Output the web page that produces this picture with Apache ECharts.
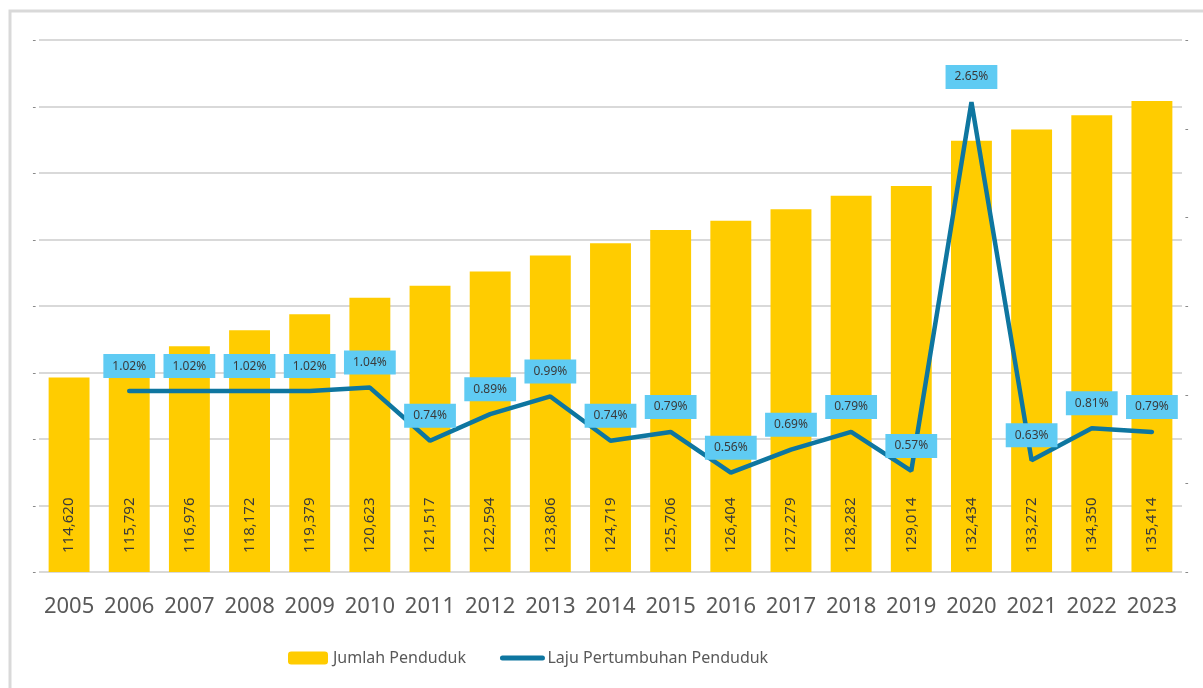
<!DOCTYPE html>
<html>
<head>
<meta charset="utf-8">
<script src="https://cdn.jsdelivr.net/npm/echarts@6/dist/echarts.min.js"></script>
<style>
  html, body { margin: 0; padding: 0; background: #fff; }
  #chart { width: 1203px; height: 688px; }
</style>
</head>
<body>
<div id="chart"></div>
<script>
// data
const years = ['2005', '2006', '2007', '2008', '2009', '2010', '2011', '2012', '2013', '2014',
  '2015', '2016', '2017', '2018', '2019', '2020', '2021', '2022', '2023'];
const jumlahPenduduk = [114620, 115792, 116976, 118172, 119379, 120623, 121517, 122594, 123806, 124719,
  125706, 126404, 127279, 128282, 129014, 132434, 133272, 134350, 135414];
const lajuPertumbuhan = [null, 1.02, 1.02, 1.02, 1.02, 1.04, 0.74, 0.89, 0.99, 0.74,
  0.79, 0.56, 0.69, 0.79, 0.57, 2.65, 0.63, 0.81, 0.79];

const myChart = echarts.init(document.getElementById('chart'));
const font = 'Noto Sans';

const option = {
  animation: false,
  textStyle: { fontFamily: font },
  graphic: [
    {
      type: 'rect',
      shape: { x: 10, y: 11, width: 1210, height: 700 },
      style: { fill: 'none', stroke: '#d9d9d9', lineWidth: 3 },
      silent: true
    }
  ],
  legend: {
    left: 283,
    top: 645,
    itemGap: 34,
    itemWidth: 40,
    itemHeight: 13,
    textStyle: { fontSize: 16, color: '#595959', fontFamily: font },
    data: [
      'Jumlah Penduduk',
      {
        name: 'Laju Pertumbuhan Penduduk',
        itemStyle: { opacity: 0, color: 'transparent', borderWidth: 0 },
        lineStyle: { width: 5, cap: 'round', color: '#0e76a0' }
      }
    ]
  },
  grid: {
    left: 39,
    right: 21,
    top: 40,
    bottom: 116
  },
  xAxis: {
    type: 'category',
    data: years,
    axisLine: { show: false },
    axisTick: { show: false },
    axisLabel: { interval: 0, fontSize: 22, color: '#595959', margin: 24 }
  },
  yAxis: [
    {
      type: 'value',
      min: 100000,
      max: 140000,
      interval: 5000,
      axisLabel: { formatter: () => '-', fontSize: 11, color: '#777', margin: 3 },
      splitLine: { lineStyle: { color: '#d9d9d9', width: 2 } }
    },
    {
      type: 'value',
      min: 0,
      max: 3,
      interval: 0.5,
      axisLabel: { formatter: () => '-', fontSize: 11, color: '#777', margin: 3 },
      splitLine: { show: false }
    }
  ],
  series: [
    {
      name: 'Jumlah Penduduk',
      type: 'bar',
      data: jumlahPenduduk,
      barWidth: '68%',
      itemStyle: { color: '#ffcc00' },
      label: {
        show: true,
        position: 'insideBottom',
        rotate: 90,
        align: 'left',
        verticalAlign: 'middle',
        distance: 19,
        fontSize: 15,
        color: '#3a3a3a',
        formatter: p => p.value.toLocaleString('en-US')
      }
    },
    {
      name: 'Laju Pertumbuhan Penduduk',
      type: 'line',
      yAxisIndex: 1,
      data: lajuPertumbuhan,
      symbol: 'circle',
      symbolSize: 0,
      lineStyle: { color: '#0e76a0', width: 4.5, cap: 'round' },
      itemStyle: { color: '#0e76a0' },
      label: {
        show: true,
        position: 'top',
        distance: 13,
        fontSize: 12,
        color: '#3a3a3a',
        backgroundColor: '#5fcbf3',
        padding: [6, 9],
        formatter: p => p.value.toFixed(2) + '%'
      }
    }
  ]
};

myChart.setOption(option);
</script>
</body>
</html>
